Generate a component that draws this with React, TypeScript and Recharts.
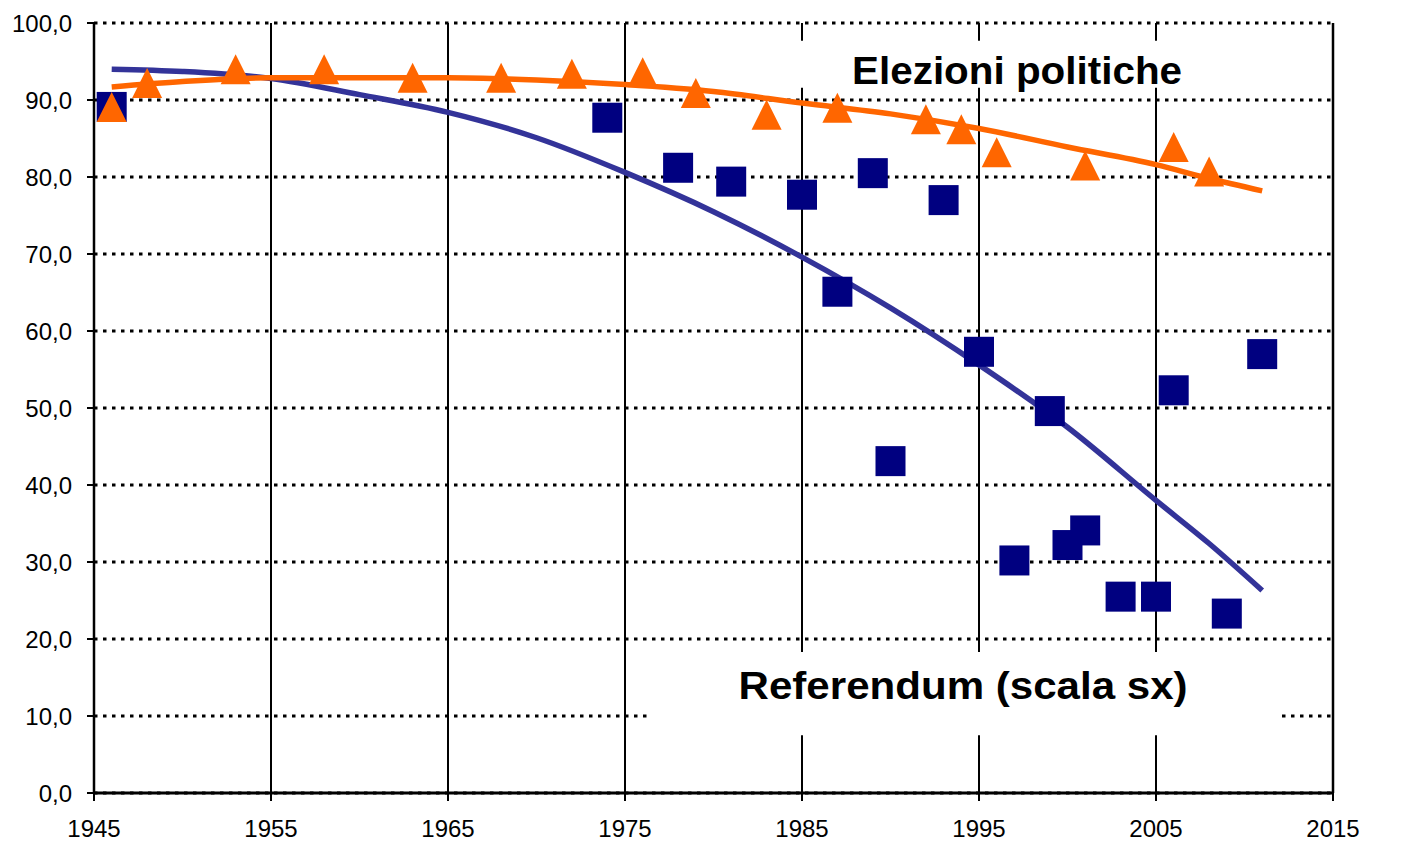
import React from 'react';
import {
  ComposedChart, Line, Scatter, XAxis, YAxis, CartesianGrid, ReferenceArea,
} from 'recharts';

// Affluenza ai referendum (quadrati) e alle elezioni politiche (triangoli), %
const refYears = [1946, 1974, 1978, 1981, 1985, 1987, 1989, 1990, 1993, 1995, 1997, 1999, 2000, 2001, 2003, 2005, 2006, 2009, 2011];
const refValues = [89.1, 87.7, 81.2, 79.4, 77.7, 65.1, 80.5, 43.1, 77.0, 57.3, 30.2, 49.6, 32.2, 34.1, 25.5, 25.5, 52.3, 23.3, 57.0];

const elezYears = [1946, 1948, 1953, 1958, 1963, 1968, 1972, 1976, 1979, 1983, 1987, 1992, 1994, 1996, 2001, 2006, 2008];
const elezValues = [89.1, 92.2, 94.0, 94.0, 92.9, 92.9, 93.4, 93.6, 90.9, 88.1, 89.0, 87.5, 86.2, 83.2, 81.5, 83.9, 80.7];

// linee di tendenza
const trendYears = [1946, 1950, 1955, 1960, 1965, 1970, 1975, 1980, 1985, 1990, 1995, 2000, 2005, 2008, 2011];
const refTrend = [94.0, 93.7, 92.8, 90.7, 88.4, 85.1, 80.6, 75.5, 69.6, 63.0, 55.6, 47.5, 38.0, 32.4, 26.3];
const elezTrend = [91.7, 92.4, 92.9, 92.9, 92.9, 92.6, 92.0, 91.1, 89.6, 88.2, 86.3, 83.9, 81.6, 79.8, 78.2];

const xTicks = [1945, 1955, 1965, 1975, 1985, 1995, 2005, 2015];
const yTicks = [0, 10, 20, 30, 40, 50, 60, 70, 80, 90, 100];

const toPoints = (xs: number[], ys: number[]) => xs.map((year, i) => ({ year, value: ys[i] }));
const refData = toPoints(refYears, refValues);
const elezData = toPoints(elezYears, elezValues);
const refTrendData = toPoints(trendYears, refTrend);
const elezTrendData = toPoints(trendYears, elezTrend);

const FONT = '"Liberation Sans", Arial, sans-serif';
const fmt = (v: number) => v.toFixed(1).replace('.', ',');

const Square = (p: any) => <rect x={p.cx - 15} y={p.cy - 15} width={30} height={30} fill="#000080" />;
const Triangle = (p: any) => (
  <polygon points={`${p.cx},${p.cy - 15} ${p.cx + 15},${p.cy + 15} ${p.cx - 15},${p.cy + 15}`} fill="#FF6600" />
);

const boxLabel = (text: string, baseline: number, length: number) => (props: any) => {
  const vb = props.viewBox;
  return (
    <text
      x={vb.x + vb.width / 2}
      y={vb.y + baseline}
      textAnchor="middle"
      fontSize={38}
      fontWeight="bold"
      fontFamily={FONT}
      fill="#000"
      textLength={length}
      lengthAdjust="spacingAndGlyphs"
    >
      {text}
    </text>
  );
};

// tick personalizzati, per avere il corpo 24px
const XTick = (p: any) => (
  <text x={p.x} y={p.y} dy={17} textAnchor="middle" fontSize={24} fontFamily={FONT} fill="#000">
    {p.payload.value}
  </text>
);
const YTickLeft = (p: any) => (
  <text x={p.x} y={p.y} dy={8.5} textAnchor="end" fontSize={24} fontFamily={FONT} fill="#000">
    {fmt(p.payload.value)}
  </text>
);
const YTickRight = (p: any) => (
  <text x={p.x} y={p.y} dy={8.5} textAnchor="start" fontSize={24} fontFamily={FONT} fill="#000">
    {fmt(p.payload.value)}
  </text>
);

export default function App() {
  return (
    <div style={{ position: 'absolute', left: 0, top: 0, background: '#fff' }}>
      <ComposedChart width={1422} height={841} margin={{ top: 23, right: 0, bottom: 0, left: 0 }}>
        <CartesianGrid yAxisId="left" vertical={false} stroke="#000" strokeWidth={3} strokeDasharray="3.5 5.5" />
        <CartesianGrid yAxisId="left" horizontal={false} stroke="#000" strokeWidth={2} />
        <XAxis
          type="number"
          dataKey="year"
          domain={[1945, 2015]}
          ticks={xTicks}
          allowDataOverflow
          height={48}
          tickSize={8}
          tickMargin={19}
          tick={XTick}
          axisLine={{ stroke: '#000', strokeWidth: 3 }}
          tickLine={{ stroke: '#000', strokeWidth: 2 }}
        />
        <YAxis
          yAxisId="left"
          domain={[0, 100]}
          ticks={yTicks}
          width={94}
          tickSize={7}
          tickMargin={15}
          tick={YTickLeft}
          axisLine={{ stroke: '#000', strokeWidth: 2.5 }}
          tickLine={{ stroke: '#000', strokeWidth: 2 }}
        />
        <YAxis
          yAxisId="right"
          orientation="right"
          domain={[0, 100]}
          ticks={yTicks}
          width={89}
          tickSize={8}
          tickMargin={14}
          tick={YTickRight}
          axisLine={{ stroke: '#000', strokeWidth: 2.5 }}
          tickLine={{ stroke: '#000', strokeWidth: 2 }}
        />
        <ReferenceArea
          yAxisId="left"
          x1={1982.7}
          x2={2011.6}
          y1={91.6}
          y2={97.7}
          fill="#fff"
          fillOpacity={1}
          stroke="none"
          label={boxLabel('Elezioni politiche', 43, 330)}
        />
        <ReferenceArea
          yAxisId="left"
          x1={1976.3}
          x2={2011.9}
          y1={7.5}
          y2={18.3}
          fill="#fff"
          fillOpacity={1}
          stroke="none"
          label={boxLabel('Referendum (scala sx)', 47, 449)}
        />
        <Scatter yAxisId="left" data={refData} dataKey="value" shape={Square} isAnimationActive={false} />
        <Scatter yAxisId="left" data={elezData} dataKey="value" shape={Triangle} isAnimationActive={false} />
        <Line
          yAxisId="left"
          data={refTrendData}
          dataKey="value"
          type="monotone"
          stroke="#333399"
          strokeWidth={5.5}
          dot={false}
          activeDot={false}
          isAnimationActive={false}
        />
        <Line
          yAxisId="left"
          data={elezTrendData}
          dataKey="value"
          type="monotone"
          stroke="#FF6600"
          strokeWidth={5.5}
          dot={false}
          activeDot={false}
          isAnimationActive={false}
        />
      </ComposedChart>
    </div>
  );
}
